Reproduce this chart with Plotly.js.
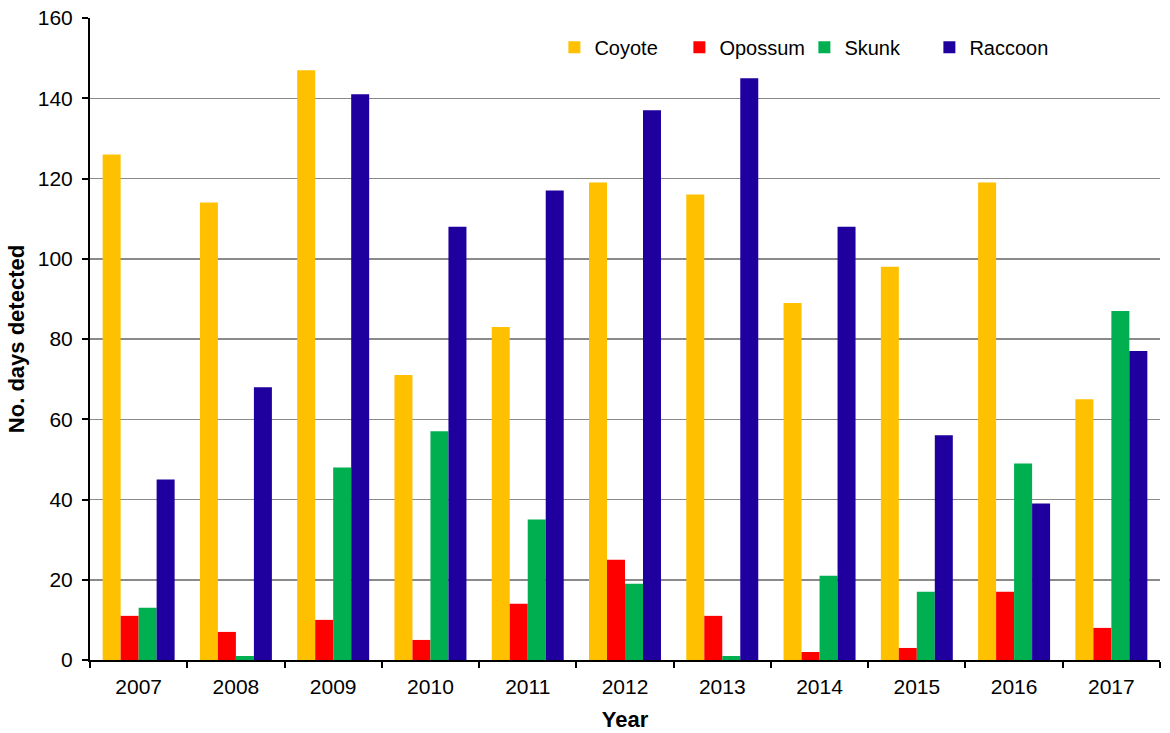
<!DOCTYPE html>
<html><head><meta charset="utf-8">
<script src="https://cdn.plot.ly/plotly-3.0.1.min.js"></script>
<style>html,body{margin:0;padding:0;background:#fff}#chart{width:1170px;height:733px}</style>
</head><body><div id="chart"></div>
<script>
const years = ["2007","2008","2009","2010","2011","2012","2013","2014","2015","2016","2017"];
const coyote  = [126,114,147,71,83,119,116,89,98,119,65];
const opossum = [11,7,10,5,14,25,11,2,3,17,8];
const skunk   = [13,1,48,57,35,19,1,21,17,49,87];
const raccoon = [45,68,141,108,117,137,145,108,56,39,77];
const seriesNames = ["Coyote","Opossum","Skunk","Raccoon"];
const seriesColors = ["#FFC000","#FF0000","#00B050","#1F009E"];
const seriesData = [coyote, opossum, skunk, raccoon];
const yTicks = [0,20,40,60,80,100,120,140,160];

const traces = seriesData.map((d,i)=>({
  type:"bar", name:seriesNames[i], x:years, y:d,
  marker:{color:seriesColors[i]}
}));
const font = "Liberation Sans, Arial, sans-serif";
Plotly.newPlot("chart", traces, {
  width:1170, height:733,
  margin:{l:90,r:10,t:18,b:73},
  paper_bgcolor:"#fff", plot_bgcolor:"#fff",
  barmode:"group", bargap:0.26, bargroupgap:0,
  font:{family:font, size:21, color:"#000"},
  xaxis:{type:"category", tickson:"boundaries", ticks:"outside", ticklen:6, tickcolor:"#000", tickwidth:2,
    showline:true, linecolor:"#000", linewidth:2, showgrid:false, ticklabelstandoff:7,
    tickfont:{size:21}, title:{text:"<b>Year</b>", font:{size:22}, standoff:14}},
  yaxis:{range:[0,160], tickvals:yTicks, ticks:"outside", ticklen:6, tickcolor:"#000", tickwidth:2,
    showline:true, linecolor:"#000", linewidth:2, showgrid:true, gridcolor:"#8a8a8a", gridwidth:1.5,
    zeroline:false, tickfont:{size:21}, ticklabelstandoff:5,
    title:{text:"<b>No. days detected</b>", font:{size:22}, standoff:7}},
  legend:{orientation:"h", x:0.434, y:0.985, xanchor:"left", yanchor:"top",
    font:{size:20}, bgcolor:"rgba(0,0,0,0)", itemwidth:30, tracegroupgap:0,
    entrywidth:80, entrywidthmode:"pixels"},
  showlegend:true
}, {displayModeBar:false, staticPlot:true});
</script></body></html>
